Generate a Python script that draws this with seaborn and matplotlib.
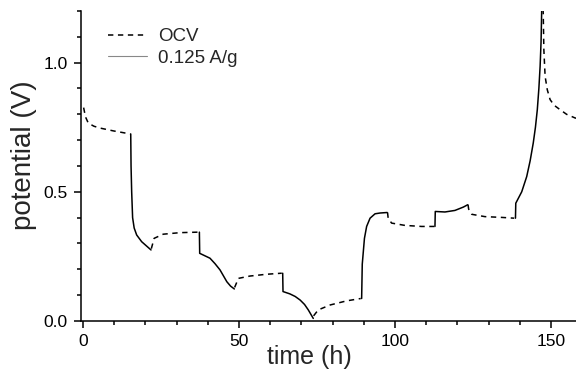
import numpy as np
import pandas as pd
import matplotlib
matplotlib.use("Agg")
import matplotlib.pyplot as plt
from matplotlib.lines import Line2D
from matplotlib.ticker import MultipleLocator, FormatStrFormatter
import seaborn as sns

# rest (open circuit) steps, dashed
rest1_t = [0.2, 0.8, 1.7, 3.5, 5.4, 9.7, 15.2]
rest1_v = [0.826, 0.79, 0.766, 0.754, 0.747, 0.736, 0.724]
rest2_t = [21.9, 22.8, 25.7, 31.1, 37.0]
rest2_v = [0.28, 0.320, 0.336, 0.342, 0.344]
rest3_t = [48.6, 49.8, 53.5, 58.9, 63.7]
rest3_v = [0.13, 0.165, 0.174, 0.181, 0.185]
rest4_t = [73.9, 75.4, 79.2, 84.5, 89.0]
rest4_v = [0.02, 0.043, 0.062, 0.078, 0.087]
rest5_t = [97.6, 97.8, 98.9, 103.2, 108.5, 112.6]
rest5_v = [0.420, 0.398, 0.379, 0.370, 0.366, 0.366]
rest6_t = [123.4, 123.6, 124.6, 128.8, 134.2, 138.2]
rest6_v = [0.450, 0.433, 0.413, 0.404, 0.401, 0.398]
rest7_t = [147.3, 147.5, 147.7, 148.1, 148.8, 149.7, 151.0, 152.9, 155.0, 157.7, 160.0]
rest7_v = [1.26, 1.19, 1.05, 0.947, 0.895, 0.857, 0.835, 0.818, 0.80, 0.786, 0.78]

# current pulses at 0.125 A/g, solid
pulse1_t = [15.3, 15.4, 15.6, 15.9, 16.4, 17.2, 18.8, 21.8]
pulse1_v = [0.724, 0.60, 0.50, 0.40, 0.36, 0.333, 0.307, 0.275]
pulse2_t = [37.3, 37.4, 40.7, 42.3, 43.9, 45.0, 46.1, 47.3, 48.5]
pulse2_v = [0.344, 0.262, 0.243, 0.222, 0.198, 0.175, 0.152, 0.135, 0.124]
pulse3_t = [64.0, 64.1, 66.3, 68.0, 69.6, 71.0, 72.2, 73.8]
pulse3_v = [0.185, 0.114, 0.105, 0.095, 0.081, 0.064, 0.043, 0.010]
pulse4_t = [89.3, 89.5, 90.2, 90.9, 92.0, 93.6, 95.2, 97.5]
pulse4_v = [0.087, 0.22, 0.32, 0.366, 0.398, 0.415, 0.418, 0.420]
pulse5_t = [112.8, 112.9, 116.0, 119.2, 121.9, 123.3]
pulse5_v = [0.366, 0.424, 0.422, 0.428, 0.441, 0.450]
pulse6_t = [138.6, 138.7, 140.6, 142.2, 143.3, 144.3, 145.0, 145.6, 146.1, 146.5, 146.8, 147.0, 147.2]
pulse6_v = [0.398, 0.456, 0.50, 0.559, 0.62, 0.689, 0.75, 0.818, 0.90, 0.986, 1.08, 1.199, 1.26]

legend_labels = ["OCV", "0.125 A/g"]

rests = [(rest1_t, rest1_v), (rest2_t, rest2_v), (rest3_t, rest3_v), (rest4_t, rest4_v),
         (rest5_t, rest5_v), (rest6_t, rest6_v), (rest7_t, rest7_v)]
pulses = [(pulse1_t, pulse1_v), (pulse2_t, pulse2_v), (pulse3_t, pulse3_v),
          (pulse4_t, pulse4_v), (pulse5_t, pulse5_v), (pulse6_t, pulse6_v)]

frames = []
for i, (t, v) in enumerate(rests):
    frames.append(pd.DataFrame({"time": t, "potential": v, "step": f"r{i}", "mode": "OCV"}))
for i, (t, v) in enumerate(pulses):
    frames.append(pd.DataFrame({"time": t, "potential": v, "step": f"p{i}", "mode": "pulse"}))
df = pd.concat(frames, ignore_index=True)

sns.set_style("ticks")
plt.rcParams["font.family"] = ["Liberation Sans", "DejaVu Sans"]

fig = plt.figure(figsize=(5.76, 3.72), dpi=100)
ax = fig.add_axes([80.5 / 576, 51 / 372, 495.5 / 576, 310 / 372])

sns.lineplot(data=df, x="time", y="potential", units="step", estimator=None,
             style="mode", dashes={"OCV": (3.5, 3), "pulse": ""},
             color="black", lw=1.1, sort=False, legend=False, ax=ax)

ax.set_xlim(-0.8, 158)
ax.set_ylim(0, 1.2)
ax.xaxis.set_major_locator(MultipleLocator(50))
ax.xaxis.set_minor_locator(MultipleLocator(10))
ax.yaxis.set_major_locator(MultipleLocator(0.5))
ax.yaxis.set_minor_locator(MultipleLocator(0.1))
ax.yaxis.set_major_formatter(FormatStrFormatter("%.1f"))
ax.tick_params(which="major", direction="out", length=5, width=1.1,
               labelsize=12.5, color="black", labelcolor="black", pad=4)
ax.tick_params(which="minor", direction="out", length=3, width=1.1, color="black")

sns.despine(ax=ax)
for side in ["left", "bottom"]:
    ax.spines[side].set_linewidth(1.1)
    ax.spines[side].set_color("black")

ax.set_xlabel("time (h)", fontsize=18)
ax.set_ylabel("potential (V)", fontsize=20)
ax.xaxis.set_label_coords(0.462, -0.078)
ax.yaxis.set_label_coords(-0.088, 0.535)

handles = [Line2D([], [], color="black", lw=1.1, dashes=(3.5, 3)),
           Line2D([], [], color="#888888", lw=0.8)]
ax.legend(handles, legend_labels, loc="upper left", bbox_to_anchor=(0.055, 0.945),
          frameon=False, fontsize=13.5, handlelength=2.1, handletextpad=0.6,
          borderpad=0, borderaxespad=0, labelspacing=0.25)

fig.savefig("out.png", dpi=100)
